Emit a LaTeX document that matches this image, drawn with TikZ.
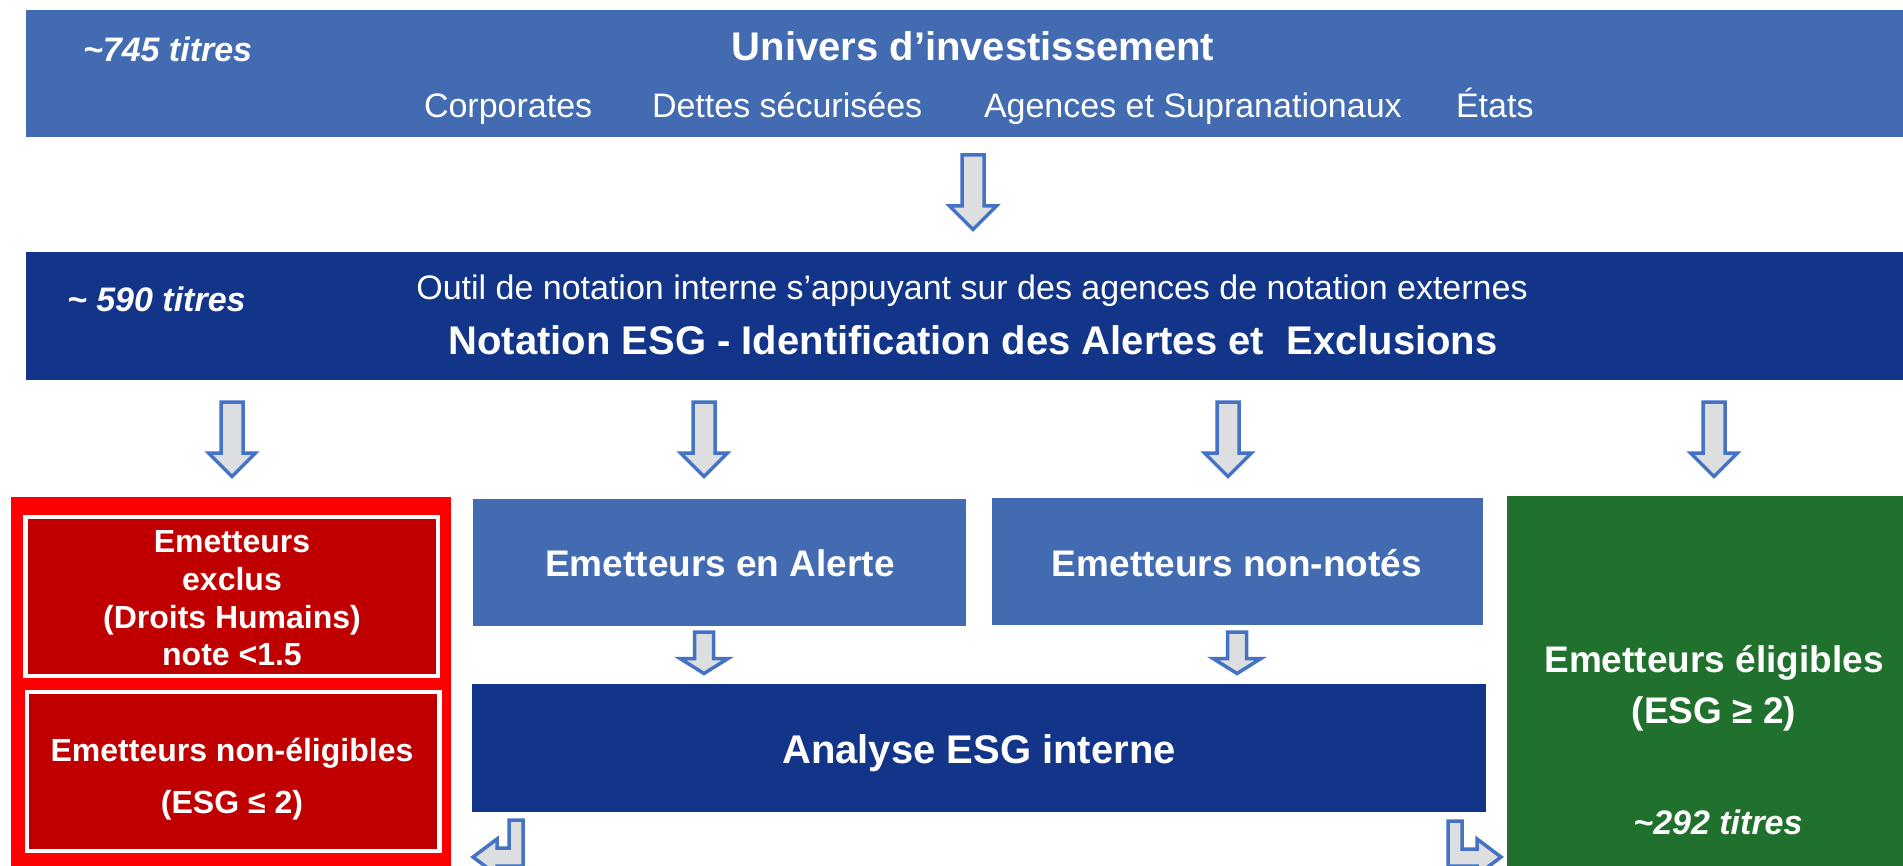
\documentclass[tikz,border=0pt]{standalone}
\usepackage{fontspec}
\setmainfont{Liberation Sans}
\usetikzlibrary{fit}
\definecolor{lblue}{RGB}{67,107,177}
\definecolor{dblue}{RGB}{19,53,137}
\definecolor{bred}{RGB}{255,0,0}
\definecolor{dred}{RGB}{192,0,0}
\definecolor{egreen}{RGB}{32,112,46}
\definecolor{arrline}{RGB}{68,114,196}
\definecolor{arrfill}{RGB}{221,222,224}
\newcommand{\fs}[1]{\fontsize{#1}{#1}\selectfont}
\tikzset{
  blk/.style={inner sep=0pt, outer sep=0pt, draw=none},
  wtxt/.style={text=white, inner sep=0pt, outer sep=0pt, anchor=base},
  arrowshape/.style={draw=arrline, fill=arrfill, line width=3.5pt, line join=miter},
  pics/bigdown/.style={code={\draw[arrowshape] (-11,0) -- (11,0) -- (11,51) -- (23.5,51) -- (0,74.5) -- (-23.5,51) -- (-11,51) -- cycle;}},
  pics/smalldown/.style={code={\draw[arrowshape] (-9.5,0) -- (9.5,0) -- (9.5,26.5) -- (24,26.5) -- (0,41.5) -- (-24,26.5) -- (-9.5,26.5) -- cycle;}},
}
\begin{document}
\begin{tikzpicture}[x=1pt,y=-1pt]
\useasboundingbox (0,0) rectangle (1903,866);
\clip (0,0) rectangle (1903,866);
\fill[white] (0,0) rectangle (1903,866);

% boxes
\node[blk, fill=lblue, fit={(26,10) (1903,137)}] (univ) {};
\node[blk, fill=dblue, fit={(26,252) (1903,380)}] (notation) {};
\node[blk, fill=bred, fit={(11,497) (451,880)}] (redbox) {};
\node[blk, fill=dred, draw=white, line width=4.5pt, fit={(25.5,517) (438,676)}] (exclus) {};
\node[blk, fill=dred, draw=white, line width=4.5pt, fit={(27,692) (439.5,851)}] (noneleg) {};
\node[blk, fill=lblue, fit={(473,499) (966,626)}] (alerte) {};
\node[blk, fill=lblue, fit={(992,498) (1483,625)}] (nonnotes) {};
\node[blk, fill=dblue, fit={(472,684) (1486,812)}] (analyse) {};
\node[blk, fill=egreen, fit={(1507,496) (1903,880)}] (eligible) {};

% texts top box
\node[wtxt, font=\bfseries\fs{40}] (t-univ) at (973,61) {Univers d’investissement};
\node[wtxt, anchor=base west, font=\bfseries\itshape\fs{34}] (t-745) at (83,62) {\textasciitilde745 titres};
\node[wtxt, anchor=base west, font=\fs{34}] (t-corp) at (424,118) {Corporates};
\node[wtxt, anchor=base west, font=\fs{34}] (t-dettes) at (652,118) {Dettes sécurisées};
\node[wtxt, anchor=base west, font=\fs{34}] (t-agences) at (984,118) {Agences et Supranationaux};
\node[wtxt, anchor=base west, font=\fs{34}] (t-etats) at (1456,118) {États};

% texts second box
\node[wtxt, anchor=base west, font=\bfseries\itshape\fs{34}] (t-590) at (67,312) {\textasciitilde{} 590 titres};
\node[wtxt, font=\fs{34}] (t-outil) at (972,300) {Outil de notation interne s’appuyant sur des agences de notation externes};
\node[wtxt, font=\bfseries\fs{40}] (t-notation) at (973,355) {Notation ESG - Identification des Alertes et \ Exclusions};

% red box texts
\node[wtxt, font=\bfseries\fs{32}] (t-ex1) at (232,552) {Emetteurs};
\node[wtxt, font=\bfseries\fs{32}] (t-ex2) at (232,590) {exclus};
\node[wtxt, font=\bfseries\fs{32}] (t-ex3) at (232,628) {(Droits Humains)};
\node[wtxt, font=\bfseries\fs{32}] (t-ex4) at (232,665) {note <1.5};
\node[wtxt, font=\bfseries\fs{32}] (t-ne1) at (232,761) {Emetteurs non-éligibles};
\node[wtxt, font=\bfseries\fs{32}] (t-ne2) at (232,813) {(ESG ≤ 2)};

% middle texts
\node[wtxt, font=\bfseries\fs{37}] (t-alerte) at (720,576) {Emetteurs en Alerte};
\node[wtxt, font=\bfseries\fs{37}] (t-nonnotes) at (1237,576) {Emetteurs non-notés};
\node[wtxt, font=\bfseries\fs{40}] (t-analyse) at (979,763) {Analyse ESG interne};

% green texts
\node[wtxt, font=\bfseries\fs{37}] (t-el1) at (1714,672) {Emetteurs éligibles};
\node[wtxt, font=\bfseries\fs{37}] (t-el2) at (1714,723) {(ESG ≥ 2)};
\node[wtxt, font=\bfseries\itshape\fs{34}] (t-el3) at (1718,834) {\textasciitilde292 titres};

% block arrows
\pic at (973,155) {bigdown};
\pic at (232,402) {bigdown};
\pic at (704,402) {bigdown};
\pic at (1228,402) {bigdown};
\pic at (1714,402) {bigdown};
\pic at (704,632) {smalldown};
\pic at (1237,632) {smalldown};

% bent arrows
\draw[arrowshape] (509,820) -- (523,820) -- (523,866) -- (497,866) -- (497,875) -- (473,857) -- (497,839) -- (497,848) -- (509,848) -- cycle;
\draw[arrowshape] (1448,821) -- (1462,821) -- (1462,849) -- (1477,849) -- (1477,839) -- (1501,857) -- (1477,875) -- (1477,866) -- (1448,866) -- cycle;
\end{tikzpicture}
\end{document}
